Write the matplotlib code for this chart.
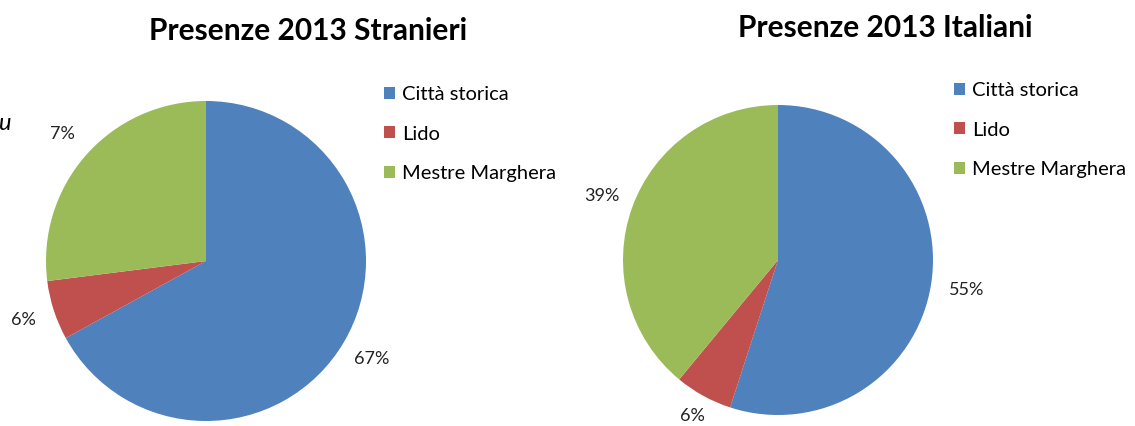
import matplotlib
matplotlib.use("Agg")
import matplotlib.pyplot as plt
import numpy as np

plt.rcParams['font.family'] = ['Lato', 'DejaVu Sans']

categories = ["Città storica", "Lido", "Mestre Marghera"]
colors = ["#4F81BD", "#C0504D", "#9BBB59"]

stranieri = [67, 6, 27]
stranieri_labels = ["67%", "6%", "7%"]
italiani = [55, 6, 39]
italiani_labels = ["55%", "6%", "39%"]

W, H = 1135, 426
fig = plt.figure(figsize=(W / 100, H / 100), dpi=100)
ax = fig.add_axes([0, 0, 1, 1])


def draw_pie(vals, labels, cx, cy, r, title, tx, ty, legx, legy, ldist):
    wedges, _ = ax.pie(vals, colors=colors, startangle=90, counterclock=False,
                       center=(cx, H - cy), radius=r, frame=True,
                       wedgeprops=dict(linewidth=0))
    for w, lab, d in zip(wedges, labels, ldist):
        th = np.deg2rad((w.theta1 + w.theta2) / 2)
        ax.text(cx + d * r * np.cos(th), H - cy + d * r * np.sin(th), lab,
                ha="center", va="center", fontsize=13, color="#222222")
    ax.text(tx, H - ty, title, ha="center", va="center", fontsize=21.5,
            fontweight="bold", color="black")
    leg = fig.legend(wedges, categories, loc="upper left",
                     bbox_to_anchor=(legx / W, 1 - legy / H), frameon=False,
                     fontsize=14.5, handlelength=0.55, handleheight=0.55,
                     handletextpad=0.35, labelspacing=1.12, borderpad=0,
                     borderaxespad=0)
    return leg


draw_pie(stranieri, stranieri_labels, 206, 261, 160, "Presenze 2013 Stranieri",
         308, 31, 384, 86, [1.2, 1.2, 1.2])
draw_pie(italiani, italiani_labels, 778, 260, 155, "Presenze 2013 Italiani",
         885, 28, 954, 82, [1.23, 1.15, 1.21])

# cropped text from the slide at the left edge
ax.text(4, H - 124, "u", ha="center", va="center", fontsize=17,
        style="italic", color="black")

ax.set_xlim(0, W)
ax.set_ylim(0, H)
ax.set_aspect("equal")
ax.axis("off")

fig.savefig("out.png", dpi=100)
